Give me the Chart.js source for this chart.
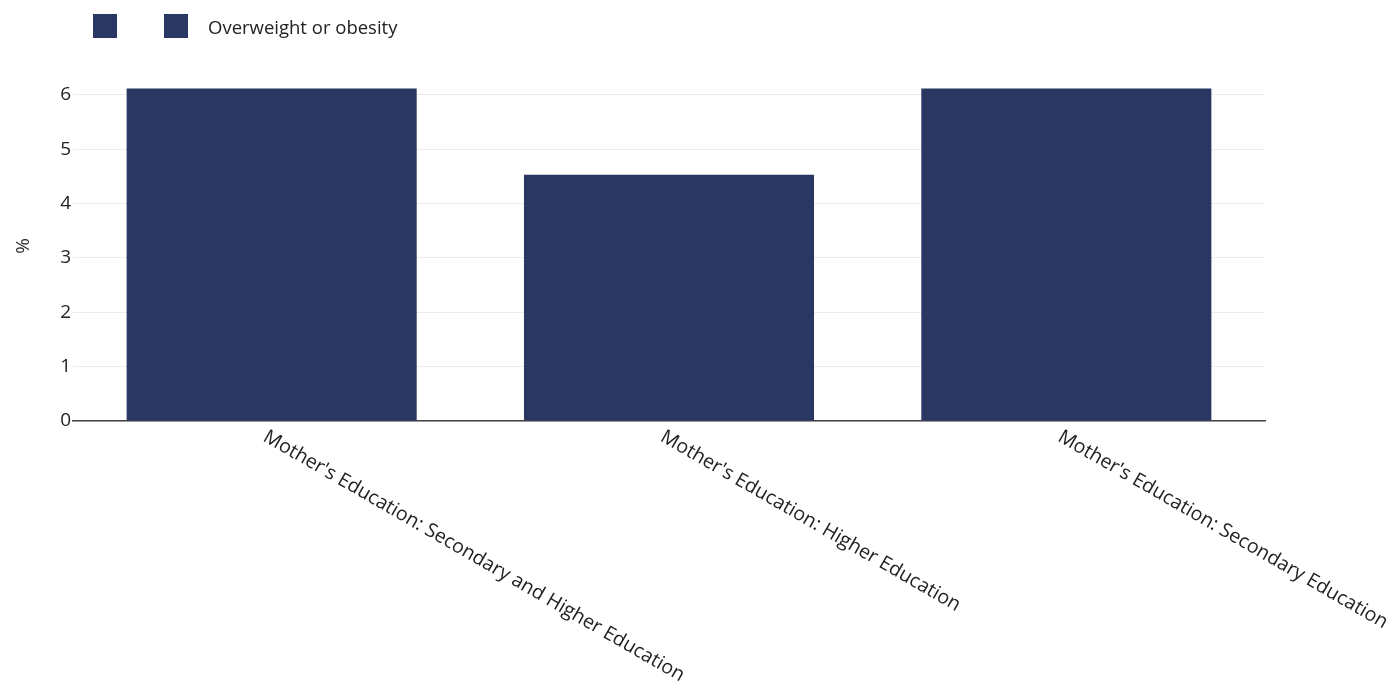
<!DOCTYPE html>
<html>
<head>
<meta charset="utf-8">
<script src="https://cdn.jsdelivr.net/npm/chart.js@4.4.1/dist/chart.umd.min.js"></script>
<style>
    body { margin: 0; background: #fff; }
    #wrap { position: relative; width: 1399px; height: 685px; }
    #legendaGrafico { position: absolute; left: 93px; top: 14px; display: flex; gap: 27px; font-family: 'Open Sans', sans-serif; font-size: 18.5px; color: #222; }
    .itemLegenda { display: flex; align-items: center; height: 24px; }
    .caixaLegenda { width: 24px; height: 24px; margin-right: 20px; }
</style>
</head>
<body>
<div id="wrap">
    <div id="legendaGrafico"></div>
    <canvas id="grafico" width="1399" height="685"></canvas>
</div>
<script>
const categorias = [
    "Mother's Education: Secondary and Higher Education",
    "Mother's Education: Higher Education",
    "Mother's Education: Secondary Education"
];
const valoresSemNome = [null, null, null];
const valoresObesidade = [6.12, 4.53, 6.12];
const ticksY = [0, 1, 2, 3, 4, 5, 6];
const maxY = 6.44;

const corBarra = '#2b3763';
const corTexto = '#222';
const fonte = "'Open Sans', sans-serif";

// rotulos do eixo x inclinados para baixo e para a direita
const rotulosX = {
    id: 'rotulosX',
    afterDraw(chart) {
        const ctx = chart.ctx;
        const escalaX = chart.scales.x;
        ctx.save();
        ctx.font = '19.5px ' + fonte;
        ctx.fillStyle = corTexto;
        ctx.textAlign = 'left';
        ctx.textBaseline = 'top';
        categorias.forEach(function (nome, i) {
            const x = escalaX.getPixelForTick(i);
            ctx.save();
            ctx.translate(x - 2, escalaX.top + 6);
            ctx.rotate(30 * Math.PI / 180);
            ctx.fillText(nome, 0, 0);
            ctx.restore();
        });
        ctx.restore();
    }
};

var contexto = document.getElementById('grafico').getContext('2d');
var meuGrafico = new Chart(contexto, {
    type: 'bar',
    data: {
        labels: categorias,
        datasets: [
            { label: '', data: valoresSemNome, backgroundColor: corBarra },
            { label: 'Overweight or obesity', data: valoresObesidade, backgroundColor: corBarra }
        ]
    },
    options: {
        responsive: false,
        animation: false,
        grouped: false,
        categoryPercentage: 0.73,
        barPercentage: 1,
        layout: { padding: { top: 71, right: 134, left: 12, bottom: 0 } },
        plugins: {
            legend: { display: false },
            tooltip: { enabled: false }
        },
        scales: {
            x: {
                grid: { display: false },
                border: { color: '#444', width: 1.5 },
                ticks: { display: false },
                afterFit: function (escala) { escala.height = 264; }
            },
            y: {
                min: 0,
                max: maxY,
                border: { display: false },
                grid: { color: '#ececec', drawTicks: false },
                afterBuildTicks: function (escala) {
                    escala.ticks = ticksY.map(v => ({ value: v }));
                },
                ticks: {
                    padding: 2,
                    color: corTexto,
                    font: { family: fonte, size: 19 }
                },
                title: {
                    display: true,
                    text: '%',
                    color: corTexto,
                    font: { family: fonte, size: 19 },
                    padding: { top: 0, bottom: 0 }
                },
                afterFit: function (escala) { escala.width = 61; }
            }
        }
    },
    plugins: [rotulosX]
});

// legenda em html a partir dos datasets
var legenda = document.getElementById('legendaGrafico');
meuGrafico.data.datasets.forEach(function (ds) {
    var item = document.createElement('div');
    item.classList.add('itemLegenda');
    var caixa = document.createElement('span');
    caixa.classList.add('caixaLegenda');
    caixa.style.background = ds.backgroundColor;
    var texto = document.createElement('span');
    texto.textContent = ds.label;
    item.appendChild(caixa);
    item.appendChild(texto);
    legenda.appendChild(item);
});
</script>
</body>
</html>
